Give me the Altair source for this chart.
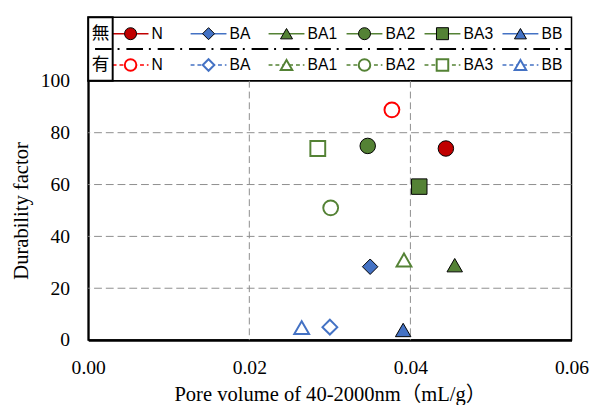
import altair as alt
import pandas as pd

# ---------------- data ----------------
series = ["N", "BA", "BA1", "BA2", "BA3", "BB"]
shapes = ["circle", "diamond", "triangle-up", "circle", "square", "triangle-up"]
kinds = ["無", "有"]
fill_colors = ["#C00000", "#4472C4", "#548235", "#548235", "#548235", "#4472C4"]
open_colors = ["#FF0000", "#4472C4", "#548235", "#548235", "#548235", "#4472C4"]

# 無 (filled markers)
x_without = [0.0444, 0.0350, 0.0455, 0.0347, 0.0411, 0.0391]
y_without = [73.9, 28.3, 28.9, 74.9, 59.2, 3.9]
# 有 (open markers)
x_with = [0.0377, 0.0300, 0.0392, 0.0301, 0.0285, 0.0265]
y_with = [88.8, 5.0, 30.9, 51.0, 73.9, 4.8]

xticks = [0.0, 0.02, 0.04, 0.06]
yticks = [0, 20, 40, 60, 80, 100]
xgrid = [0.02, 0.04]
ygrid = [20, 40, 60, 80]
x_title = "Pore volume of 40-2000nm（mL/g）"
y_title = "Durability factor"

# ---------------- layout ----------------
W = 494
H_PLOT = 265
H_LEG = 65
SERIF = "Liberation Serif, Noto Sans CJK JP"
SANS = "Liberation Sans"

keys = [s + "|" + kinds[0] for s in series] + [s + "|" + kinds[1] for s in series]
key_colors = fill_colors + open_colors
key_scale = alt.Scale(domain=keys, range=key_colors)
shape_scale = alt.Scale(domain=series, range=shapes)

pts = pd.DataFrame({
    "series": series * 2,
    "kind": [kinds[0]] * 6 + [kinds[1]] * 6,
    "x": x_without + x_with,
    "y": y_without + y_with,
})
pts["key"] = pts["series"] + "|" + pts["kind"]

xs = alt.Scale(domain=[0, 0.06], nice=False, zero=False)
ys = alt.Scale(domain=[0, 100], nice=False, zero=False)

x_axis = alt.Axis(values=xticks, format=".2f", title=x_title, grid=False,
                  ticks=False, labelPadding=18, titlePadding=7, domainWidth=2.5,
                  labelFlush=False)
y_axis = alt.Axis(values=yticks, format="d", title=y_title, grid=False,
                  ticks=False, labelPadding=19, titlePadding=9, domainWidth=2,
                  labelFlush=False)

vgrid = alt.Chart(pd.DataFrame({"x": xgrid})).mark_rule(
    color="#8C8C8C", strokeDash=[7, 4], strokeWidth=1
).encode(x=alt.X("x:Q", scale=xs, axis=x_axis))

hgrid = alt.Chart(pd.DataFrame({"y": ygrid})).mark_rule(
    color="#8C8C8C", strokeDash=[8, 4], strokeWidth=1
).encode(y=alt.Y("y:Q", scale=ys, axis=y_axis))

base = alt.Chart(pts).encode(
    x=alt.X("x:Q", scale=xs, axis=x_axis),
    y=alt.Y("y:Q", scale=ys, axis=y_axis),
    shape=alt.Shape("series:N", scale=shape_scale, legend=None),
)

filled = base.transform_filter(alt.datum.kind == kinds[0]).mark_point(
    filled=True, size=250, stroke="black", strokeWidth=1, opacity=1
).encode(fill=alt.Fill("key:N", scale=key_scale, legend=None))

hollow = base.transform_filter(alt.datum.kind == kinds[1]).mark_point(
    filled=False, fill="white", size=230, strokeWidth=2, opacity=1
).encode(stroke=alt.Stroke("key:N", scale=key_scale, legend=None))

scatter = alt.layer(vgrid, hgrid, filled, hollow).properties(width=W, height=H_PLOT)

# ---------------- legend panel ----------------
leg = pd.DataFrame({
    "series": series * 2,
    "idx": list(range(6)) * 2,
    "row": [1] * 6 + [0] * 6,
    "kind": [kinds[0]] * 6 + [kinds[1]] * 6,
})
leg["key"] = leg["series"] + "|" + leg["kind"]
leg["x1"] = leg["idx"] - 0.23
leg["x2"] = leg["idx"] + 0.23
leg["xt"] = leg["idx"] + 0.27

lx = alt.Scale(domain=[-0.543, 5.655], nice=False, zero=False)
ly = alt.Scale(domain=[-0.506, 1.525], nice=False, zero=False)

lbase = alt.Chart(leg).encode(
    y=alt.Y("row:Q", scale=ly, axis=None),
)

sep = alt.Chart(pd.DataFrame({"v": [0]})).mark_rule(
    color="black", strokeWidth=2, strokeDash=[17, 6, 2, 7]
).encode(x=alt.value(7), x2=alt.value(W), y=alt.value(32.5))

cell = alt.Chart(pd.DataFrame({"v": [0]})).mark_rect(
    fillOpacity=0, stroke="black", strokeWidth=2
).encode(x=alt.value(0), x2=alt.value(25), y=alt.value(0), y2=alt.value(H_LEG))

lines_solid = lbase.transform_filter(alt.datum.row == 1).mark_rule(strokeWidth=1.5).encode(
    x=alt.X("x1:Q", scale=lx, axis=None), x2="x2:Q",
    stroke=alt.Stroke("key:N", scale=key_scale, legend=None),
)
lines_dash = lbase.transform_filter(alt.datum.row == 0).mark_rule(
    strokeWidth=1.5, strokeDash=[4, 3]
).encode(
    x=alt.X("x1:Q", scale=lx, axis=None), x2="x2:Q",
    stroke=alt.Stroke("key:N", scale=key_scale, legend=None),
)
lm_filled = lbase.transform_filter(alt.datum.row == 1).mark_point(
    filled=True, size=150, stroke="black", strokeWidth=1, opacity=1
).encode(
    x=alt.X("idx:Q", scale=lx, axis=None),
    shape=alt.Shape("series:N", scale=shape_scale, legend=None),
    fill=alt.Fill("key:N", scale=key_scale, legend=None),
)
lm_hollow = lbase.transform_filter(alt.datum.row == 0).mark_point(
    filled=False, fill="white", size=140, strokeWidth=2, opacity=1
).encode(
    x=alt.X("idx:Q", scale=lx, axis=None),
    shape=alt.Shape("series:N", scale=shape_scale, legend=None),
    stroke=alt.Stroke("key:N", scale=key_scale, legend=None),
)
ltext = lbase.mark_text(
    align="left", baseline="middle", font=SANS, fontSize=16, color="black", dx=0
).encode(x=alt.X("xt:Q", scale=lx, axis=None), text="series:N")

rows = alt.Chart(pd.DataFrame({"label": kinds, "row": [1, 0]})).mark_text(
    align="center", baseline="middle", font="Noto Sans CJK JP", fontSize=18, color="black"
).encode(
    x=alt.value(12.5),
    y=alt.Y("row:Q", scale=ly, axis=None),
    text="label:N",
)

legend_panel = alt.layer(
    sep, lines_solid, lines_dash, lm_filled, lm_hollow, ltext, cell, rows
).properties(width=W, height=H_LEG)

chart = alt.vconcat(legend_panel, scatter, spacing=0, bounds="flush").properties(
    padding={"left": 2, "top": 3, "right": 5, "bottom": 0}
).configure_view(
    stroke="black", strokeWidth=1.5
).configure_axis(
    labelFont=SERIF, labelFontSize=20, labelColor="black",
    titleFont=SERIF, titleFontSize=21, titleFontWeight="normal", titleColor="black",
    domainColor="black",
).configure_concat(spacing=0)

chart.save("out.html", embed_options={"renderer": "svg", "actions": False})
